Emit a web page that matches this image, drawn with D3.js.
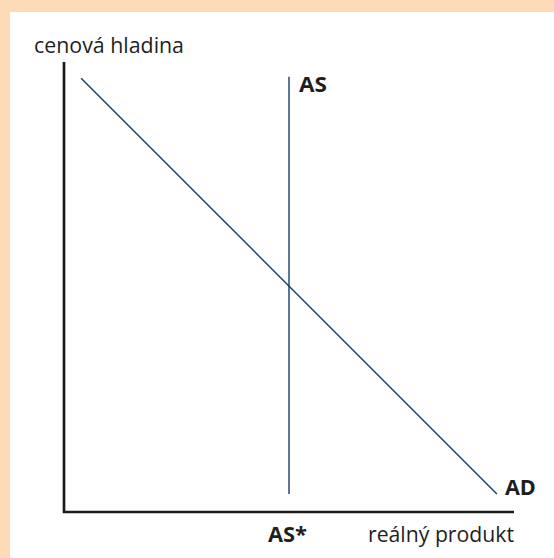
<!DOCTYPE html>
<html>
<head>
<meta charset="utf-8">
<script src="https://cdn.jsdelivr.net/npm/d3@7"></script>
<style>
  html, body { margin: 0; padding: 0; background: #fddbb8; }
  svg { display: block; }
</style>
</head>
<body>
<svg id="chart" width="554" height="558"></svg>
<script>
// data (axes run 0..100 in both directions)
var adPoints = [[3.8, 96.4], [96.2, 4.0]];
var asX = 50;
var asRange = [4.0, 96.7];
var labels = { y: "cenová hladina", x: "reálný produkt", as: "AS", ad: "AD", asStar: "AS*" };

var W = 554, H = 558;
var LINE = "#153e6e";
var FONT = "'Open Sans', 'DejaVu Sans', sans-serif";

var svg = d3.select("#chart");

// peach frame on top and left, white panel
svg.append("rect").attr("width", W).attr("height", H).style("fill", "#fddbb8");
svg.append("rect").attr("x", 10).attr("y", 12).attr("width", W - 10).attr("height", H - 12).style("fill", "#fff");

var x = d3.scaleLinear().domain([0, 100]).range([64, 514]);
var y = d3.scaleLinear().domain([0, 100]).range([512, 62]);

// axes
var axisColor = "#1c1c1c";
svg.append("line")
    .attr("x1", x(0)).attr("x2", x(0))
    .attr("y1", y(100)).attr("y2", y(0) + 1)
    .style("stroke", axisColor).style("stroke-width", "2.7px");
svg.append("line")
    .attr("x1", x(0) - 1).attr("x2", x(100))
    .attr("y1", y(0)).attr("y2", y(0))
    .style("stroke", axisColor).style("stroke-width", "2.7px");

// AD curve
var line = d3.line().x(function(d){ return x(d[0]); }).y(function(d){ return y(d[1]); });
svg.append("path")
    .datum(adPoints)
    .attr("d", line)
    .style("fill", "none")
    .style("stroke", LINE)
    .style("stroke-width", "1.4px");

// AS vertical
svg.append("line")
    .attr("x1", x(asX)).attr("x2", x(asX))
    .attr("y1", y(asRange[1])).attr("y2", y(asRange[0]))
    .style("stroke", LINE)
    .style("stroke-width", "1.4px");

function label(txt, px, py, len, bold) {
    svg.append("text")
        .attr("x", px).attr("y", py)
        .attr("textLength", len)
        .attr("lengthAdjust", "spacingAndGlyphs")
        .style("font-family", FONT)
        .style("font-size", bold ? "21px" : "22px")
        .style("font-weight", bold ? "bold" : "normal")
        .style("fill", "#1e1e1e")
        .text(txt);
}

label(labels.y, 34, 53, 150, false);
label(labels.x, 368, 542, 146, false);
label(labels.as, x(asX) + 10, y(asRange[1]) + 15, 28, true);
label(labels.ad, x(adPoints[1][0]) + 8, y(adPoints[1][1]) + 1, 31, true);
label(labels.asStar, x(asX) - 21, 542, 39, true);
</script>
</body>
</html>
